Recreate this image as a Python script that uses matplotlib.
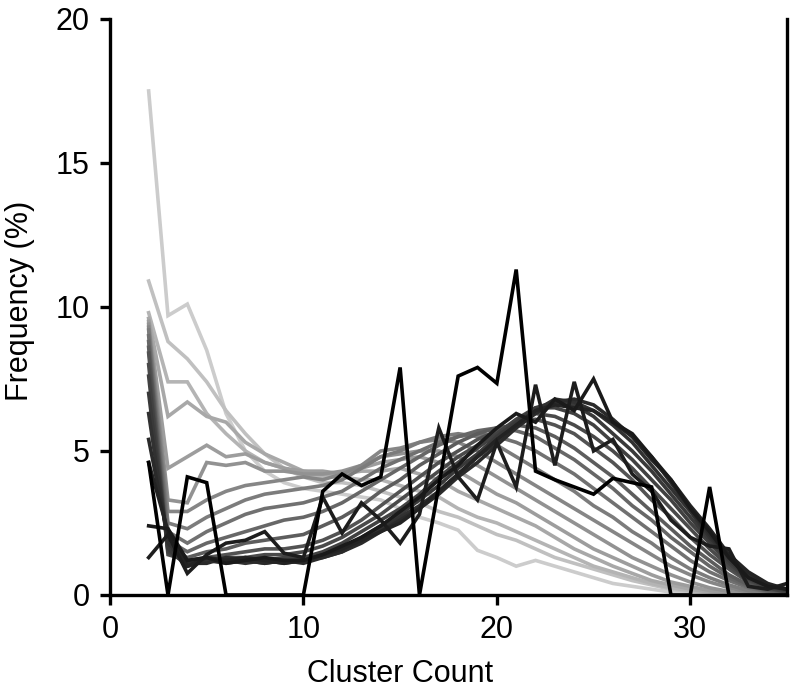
import numpy as np
import matplotlib
matplotlib.use("Agg")
import matplotlib.pyplot as plt

plt.rcParams['font.family'] = ['Liberation Sans', 'DejaVu Sans']

# cluster counts on the x axis
cluster_count = list(range(2, 36))

# frequency (%) curves, ordered from the earliest (light) to the latest (black)
series = [
    [17.5, 9.7, 10.1, 8.5, 6.3, 5.0, 4.3, 3.9, 3.7, 3.6, 3.5, 3.4, 3.3, 3.0, 2.7,
     2.5, 2.25, 1.55, 1.3, 1.0, 1.2, 1.0, 0.8, 0.6, 0.4, 0.3, 0.2, 0.1, 0.05, 0.02, 0, 0, 0, 0],
    [10.9, 8.8, 8.2, 7.4, 6.4, 5.6, 4.9, 4.4, 4.1, 3.9, 3.9, 3.8, 3.6, 3.4, 3.2,
     2.9, 2.7, 2.4, 2.1, 1.9, 1.6, 1.3, 1.1, 0.9, 0.7, 0.5, 0.35, 0.2, 0.12, 0.06, 0.02, 0, 0, 0],
    [9.8, 7.4, 7.4, 6.3, 5.6, 5.0, 4.6, 4.4, 4.2, 4.1, 4.1, 4.0, 4.0, 3.8, 3.6,
     3.4, 3.0, 2.7, 2.5, 2.2, 1.9, 1.6, 1.3, 1.0, 0.8, 0.6, 0.4, 0.25, 0.15, 0.08, 0.03, 0, 0, 0],
    [9.6, 6.2, 6.7, 6.2, 6.0, 5.3, 4.9, 4.6, 4.3, 4.2, 4.2, 4.3, 4.3, 4.4, 4.2,
     4.0, 3.6, 3.3, 3.0, 2.7, 2.4, 2.0, 1.6, 1.3, 1.0, 0.75, 0.5, 0.35, 0.2, 0.1, 0.05, 0.02, 0, 0],
    [9.5, 4.4, 4.8, 5.2, 4.8, 4.9, 4.6, 4.4, 4.3, 4.3, 4.2, 4.4, 4.6, 4.7, 4.8,
     4.6, 4.3, 3.9, 3.5, 3.2, 2.8, 2.4, 2.0, 1.6, 1.3, 1.0, 0.7, 0.45, 0.3, 0.15, 0.08, 0.03, 0, 0],
    [9.4, 3.3, 3.2, 4.6, 4.5, 4.6, 4.3, 4.3, 4.2, 4.2, 4.3, 4.5, 4.8, 4.9, 5.0,
     5.0, 4.8, 4.5, 4.1, 3.7, 3.3, 2.9, 2.5, 2.1, 1.7, 1.3, 1.0, 0.7, 0.45, 0.25, 0.12, 0.05, 0.02, 0],
    [9.3, 2.9, 2.9, 3.3, 3.6, 3.8, 3.9, 4.0, 4.1, 4.0, 4.2, 4.5, 5.0, 5.1, 5.3,
     5.4, 5.3, 5.0, 4.6, 4.2, 3.8, 3.4, 3.0, 2.6, 2.2, 1.8, 1.4, 1.0, 0.7, 0.45, 0.25, 0.1, 0.04, 0],
    [9.2, 2.5, 2.3, 2.7, 3.0, 3.3, 3.5, 3.6, 3.7, 3.8, 4.0, 4.4, 4.8, 5.0, 5.3,
     5.5, 5.6, 5.5, 5.2, 4.8, 4.4, 4.0, 3.6, 3.1, 2.7, 2.2, 1.8, 1.3, 0.9, 0.6, 0.35, 0.15, 0.06, 0.02],
    [9.0, 2.2, 1.8, 2.2, 2.5, 2.8, 3.0, 3.1, 3.2, 3.4, 3.6, 4.0, 4.4, 4.7, 5.0,
     5.3, 5.5, 5.6, 5.5, 5.3, 5.0, 4.6, 4.2, 3.7, 3.2, 2.7, 2.2, 1.7, 1.2, 0.8, 0.5, 0.25, 0.1, 0.04],
    [8.8, 1.9, 1.5, 1.8, 2.0, 2.2, 2.4, 2.6, 2.7, 2.9, 3.2, 3.6, 4.0, 4.4, 4.8,
     5.2, 5.5, 5.7, 5.8, 5.7, 5.5, 5.1, 4.7, 4.2, 3.7, 3.1, 2.6, 2.0, 1.5, 1.0, 0.6, 0.3, 0.12, 0.05],
    [8.6, 1.6, 1.3, 1.5, 1.6, 1.8, 1.9, 2.0, 2.1, 2.4, 2.7, 3.1, 3.6, 4.0, 4.5,
     4.9, 5.3, 5.6, 5.8, 5.9, 5.8, 5.5, 5.1, 4.6, 4.1, 3.5, 2.9, 2.3, 1.7, 1.2, 0.7, 0.35, 0.15, 0.05],
    [8.4, 1.5, 1.2, 1.3, 1.4, 1.5, 1.6, 1.6, 1.7, 1.9, 2.2, 2.6, 3.1, 3.6, 4.1,
     4.6, 5.0, 5.4, 5.7, 6.0, 6.1, 5.9, 5.6, 5.1, 4.6, 4.0, 3.3, 2.7, 2.0, 1.4, 0.9, 0.45, 0.2, 0.08],
    [8.0, 1.4, 1.2, 1.2, 1.3, 1.3, 1.4, 1.4, 1.5, 1.7, 2.0, 2.4, 2.8, 3.3, 3.8,
     4.3, 4.8, 5.2, 5.6, 6.0, 6.3, 6.2, 5.9, 5.5, 5.0, 4.4, 3.7, 3.0, 2.3, 1.6, 1.0, 0.5, 0.25, 0.1],
    [7.6, 1.5, 1.1, 1.3, 1.2, 1.3, 1.2, 1.3, 1.3, 1.5, 1.8, 2.2, 2.6, 3.0, 3.5,
     4.1, 4.6, 5.1, 5.6, 6.1, 6.5, 6.5, 6.3, 5.9, 5.3, 4.7, 4.0, 3.3, 2.5, 1.8, 1.1, 0.55, 0.25, 0.1],
    [7.0, 1.6, 1.0, 1.2, 1.1, 1.2, 1.1, 1.2, 1.2, 1.4, 1.6, 2.0, 2.4, 2.8, 3.3,
     3.8, 4.4, 4.9, 5.5, 6.0, 6.5, 6.7, 6.6, 6.2, 5.6, 5.0, 4.3, 3.5, 2.7, 1.9, 1.2, 0.6, 0.3, 0.15],
    [6.3, 1.8, 1.0, 1.2, 1.2, 1.1, 1.2, 1.1, 1.2, 1.3, 1.5, 1.9, 2.3, 2.7, 3.1,
     3.6, 4.2, 4.8, 5.3, 5.9, 6.4, 6.8, 6.7, 6.4, 5.9, 5.3, 4.5, 3.7, 2.9, 2.0, 1.3, 0.7, 0.35, 0.2],
    [5.4, 2.0, 1.1, 1.1, 1.3, 1.2, 1.1, 1.2, 1.1, 1.3, 1.5, 1.8, 2.2, 2.6, 3.0,
     3.5, 4.1, 4.6, 5.2, 5.8, 6.3, 6.7, 6.8, 6.6, 6.1, 5.5, 4.8, 3.9, 3.0, 2.1, 1.3, 0.7, 0.35, 0.2],
    [4.6, 2.2, 1.0, 1.3, 1.2, 1.3, 1.2, 1.1, 1.2, 1.4, 1.6, 1.9, 2.2, 2.5, 3.0,
     3.6, 4.2, 4.8, 5.4, 5.9, 6.4, 6.6, 6.5, 6.4, 6.0, 5.5, 4.7, 4.0, 3.1, 2.3, 1.4, 0.8, 0.4, 0.2],
    [1.3, 2.1, 0.75, 1.4, 1.8, 1.9, 2.2, 1.45, 1.3, 3.4, 2.15, 3.2, 2.6, 1.8, 2.8,
     5.8, 4.1, 3.3, 5.3, 3.75, 7.3, 4.5, 7.4, 5.0, 5.4, 4.2, 3.6, 2.6, 2.0, 1.7, 1.6, 0.3, 0.2, 0.4],
    [2.4, 2.3, 1.2, 1.3, 1.1, 1.2, 1.3, 1.2, 1.2, 1.4, 1.7, 2.0, 2.4, 2.9, 3.4,
     4.0, 4.5, 5.2, 5.8, 6.3, 6.0, 6.8, 6.4, 7.5, 6.0, 5.6, 4.8, 4.0, 3.0, 2.2, 1.3, 0.6, 0.3, 0.2],
    [4.6, 0, 4.1, 3.9, 0, 0, 0, 0, 0, 3.6, 4.2, 3.8, 4.1, 7.9, 0,
     3.8, 7.6, 7.9, 7.35, 11.3, 4.3, 4.0, 3.75, 3.5, 4.05, 3.9, 3.75, 0, 0, 3.75, 0, 0, 0, 0],
]

fig = plt.figure(figsize=(7.9, 6.92), dpi=100)
ax = fig.add_axes([0.1392, 0.1402, 0.857, 0.8324])

# light grey for the first curve, darkening towards black for the last one
t = np.linspace(0, 1, len(series) - 1)
grays = list(0.10 + 0.70 * (1 - t) ** 1.3) + [0.0]
for vals, g in zip(series, grays):
    ax.plot(cluster_count, vals, color=str(g), lw=2.6, solid_joinstyle='miter')

ax.set_xlim(0, 35)
ax.set_ylim(0, 20)
ax.set_xticks([0, 10, 20, 30])
ax.set_yticks([0, 5, 10, 15, 20])

for side in ['left', 'bottom', 'right']:
    ax.spines[side].set_linewidth(2.4)
ax.spines['top'].set_visible(False)
ax.tick_params(direction='out', length=7.5, width=2.4, labelsize=22, pad=7)

ax.set_xlabel('Cluster Count', fontsize=22)
ax.set_ylabel('Frequency (%)', fontsize=22)
ax.xaxis.set_label_coords(0.428, -0.112)
ax.yaxis.set_label_coords(-0.11, 0.51)

fig.savefig('out.png', dpi=100)
